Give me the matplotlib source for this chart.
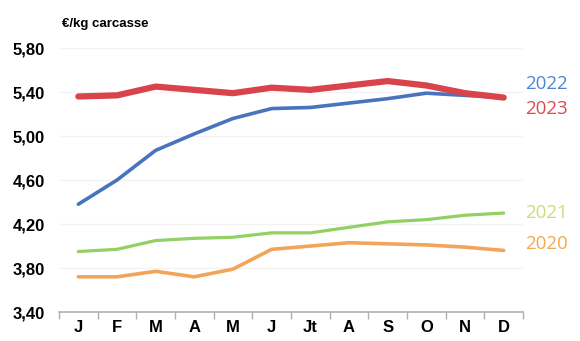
import numpy as np
import matplotlib.pyplot as plt

months = ["J", "F", "M", "A", "M", "J", "Jt", "A", "S", "O", "N", "D"]
yticks = [3.40, 3.80, 4.20, 4.60, 5.00, 5.40, 5.80]

p2020 = [3.72, 3.72, 3.77, 3.72, 3.79, 3.97, 4.00, 4.03, 4.02, 4.01, 3.99, 3.96]
p2021 = [3.95, 3.97, 4.05, 4.07, 4.08, 4.12, 4.12, 4.17, 4.22, 4.24, 4.28, 4.30]
p2022 = [4.38, 4.60, 4.87, 5.02, 5.16, 5.25, 5.26, 5.30, 5.34, 5.39, 5.37, 5.35]
p2023 = [5.36, 5.37, 5.45, 5.42, 5.39, 5.44, 5.42, 5.46, 5.50, 5.46, 5.39, 5.35]

# (values, label, line colour, label colour, width, label y in data units)
series = [
    (p2020, "2020", "#f2a55a", "#f5a84e", 2.6, 4.02),
    (p2021, "2021", "#93d064", "#c6e07c", 2.3, 4.30),
    (p2022, "2022", "#4874bd", "#4b86d4", 2.6, 5.47),
    (p2023, "2023", "#d8434c", "#d84b50", 4.5, 5.25),
]

cond = ["Liberation Sans Narrow", "Liberation Sans", "DejaVu Sans"]

fig = plt.figure(figsize=(5.8, 3.41), dpi=100)
ax = fig.add_axes([0.1017, 0.085, 0.8, 0.774])

x = np.arange(len(months))
for vals, name, col, lcol, lw, ly in series:
    ax.plot(x, vals, color=col, lw=lw, solid_capstyle="round",
            solid_joinstyle="round")
    ax.text(1.005, (ly - 3.40) / 2.40, name, transform=ax.transAxes,
            color=lcol, fontsize=13.5, family="Open Sans", va="center",
            ha="left")

ax.set_xlim(-0.5, 11.5)
ax.set_ylim(3.40, 5.80)

# faint horizontal guides
for yv in yticks[1:]:
    ax.axhline(yv, color="#f3f3f3", lw=1, zorder=0)

for s in ["top", "right", "left"]:
    ax.spines[s].set_visible(False)
ax.spines["bottom"].set_color("#b0b0b0")
ax.spines["bottom"].set_linewidth(1.2)

ax.set_xticks(x)
ax.set_xticklabels(months, family=cond, fontweight="bold", fontsize=12)
ax.set_xticks(np.arange(-0.5, 12, 1), minor=True)
ax.tick_params(axis="x", which="major", length=0, pad=6)
ax.tick_params(axis="x", which="minor", length=5, color="#b0b0b0", width=1)

ax.set_yticks(yticks)
ax.set_yticklabels([f"{v:.2f}".replace(".", ",") for v in yticks],
                   family=cond, fontweight="bold", fontsize=12)
ax.tick_params(axis="y", length=0, pad=10)

fig.text(0.107, 0.93, "€/kg carcasse", family=cond, fontweight="bold",
         fontsize=9.5, va="center", ha="left")

fig.savefig("out.png", dpi=100, facecolor="white")
